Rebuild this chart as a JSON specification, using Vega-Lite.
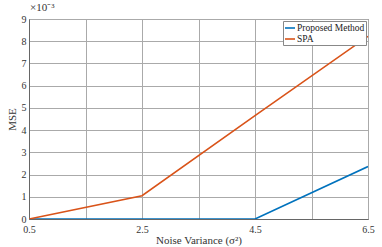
{
  "$schema": "https://vega.github.io/schema/vega-lite/v6.json",
  "width": 339,
  "height": 200,
  "autosize": {"type": "none"},
  "padding": {"left": 29, "top": 19, "right": 14, "bottom": 28},
  "background": "white",
  "title": {
    "text": "×10⁻³",
    "anchor": "start",
    "frame": "group",
    "font": "Liberation Serif",
    "fontSize": 11,
    "fontWeight": "normal",
    "color": "#333",
    "offset": 1,
    "dx": 1
  },
  "config": {
    "view": {"stroke": "#666", "strokeWidth": 1},
    "font": "Liberation Serif",
    "axis": {
      "labelFont": "Liberation Serif",
      "titleFont": "Liberation Serif",
      "labelFontSize": 10,
      "titleFontSize": 11,
      "titleFontWeight": "normal",
      "labelColor": "#333",
      "titleColor": "#333",
      "domainColor": "#666",
      "gridColor": "#aaa",
      "gridOpacity": 1,
      "ticks": false,
      "labelPadding": 3
    }
  },
  "data": {
    "values": [
      {"noise": 0.5, "mse": 0, "method": "Proposed Method"},
      {"noise": 2.5, "mse": 0, "method": "Proposed Method"},
      {"noise": 4.5, "mse": 0, "method": "Proposed Method"},
      {"noise": 6.5, "mse": 0.00236, "method": "Proposed Method"},
      {"noise": 0.5, "mse": 0, "method": "SPA"},
      {"noise": 2.5, "mse": 0.00105, "method": "SPA"},
      {"noise": 4.5, "mse": 0.00465, "method": "SPA"},
      {"noise": 6.5, "mse": 0.00822, "method": "SPA"}
    ]
  },
  "mark": {"type": "line", "strokeWidth": 1.6, "clip": true},
  "encoding": {
    "x": {
      "field": "noise",
      "type": "quantitative",
      "scale": {"domain": [0.5, 6.5], "nice": false, "zero": false},
      "axis": {
        "title": "Noise Variance (σ²)",
        "values": [0.5, 1.5, 2.5, 3.5, 4.5, 5.5, 6.5],
        "format": ".1f",
        "labelExpr": "(datum.value * 2) % 4 == 1 ? datum.label : ''",
        "labelPadding": 5,
        "titlePadding": 0,
        "labelFlush": false,
        "labelOverlap": false
      }
    },
    "y": {
      "field": "mse",
      "type": "quantitative",
      "scale": {"domain": [0, 0.009], "nice": false},
      "axis": {
        "title": "MSE",
        "values": [0, 0.001, 0.002, 0.003, 0.004, 0.005, 0.006, 0.007, 0.008, 0.009],
        "labelExpr": "format(datum.value * 1000, '.0f')",
        "titlePadding": 4,
        "labelFlush": false,
        "labelOverlap": false
      }
    },
    "color": {
      "field": "method",
      "type": "nominal",
      "scale": {"domain": ["Proposed Method", "SPA"], "range": ["#0072BD", "#D95319"]},
      "legend": {
        "title": null,
        "orient": "top-right",
        "offset": 2,
        "labelFont": "Liberation Serif",
        "labelFontSize": 9.5,
        "labelColor": "#222",
        "symbolType": "stroke",
        "symbolSize": 100,
        "symbolStrokeWidth": 1.6,
        "strokeColor": "#888",
        "fillColor": "white",
        "padding": 1,
        "rowPadding": 0,
        "labelOffset": 1,
        "symbolOffset": 0
      }
    }
  }
}
